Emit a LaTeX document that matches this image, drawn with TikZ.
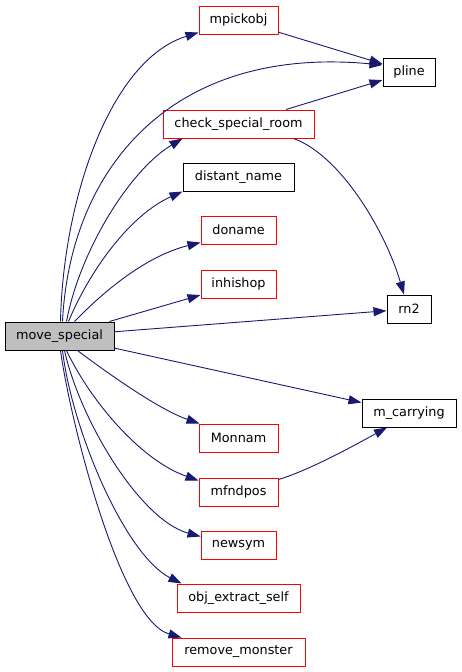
\documentclass[tikz,border=0pt]{standalone}
\usepackage{fontspec}
\setmainfont{DejaVu Sans}
\usetikzlibrary{arrows.meta}
\definecolor{edgeblue}{RGB}{25,25,112}
\definecolor{nodegrey}{RGB}{191,191,191}
\tikzset{
  fn/.style={draw=black, line width=1pt, fill=white, minimum height=28pt, inner sep=0pt,
    font=\fontsize{12.8pt}{14pt}\selectfont},
  redfn/.style={fn, draw=red},
  rootfn/.style={fn, fill=nodegrey},
  call/.style={draw=edgeblue, line width=0.9pt, -{Triangle[length=13pt,width=9pt]}, shorten >=0pt, arrows={[fill=edgeblue]}}
}
\begin{document}
\begin{tikzpicture}[x=1pt,y=-1pt]
\useasboundingbox (0,0) rectangle (461,672);
\node[redfn, minimum width=79pt] (mp) at (238.5,20) {mpickobj};
\node[fn, minimum width=52pt] (pline) at (409,72) {pline};
\node[redfn, minimum width=151pt] (csr) at (238.5,124) {check\_special\_room};
\node[fn, minimum width=111pt] (dn) at (238.5,177) {distant\_name};
\node[redfn, minimum width=75pt] (don) at (238.5,230) {doname};
\node[redfn, minimum width=75pt] (inh) at (238.5,284) {inhishop};
\node[fn, minimum width=44pt] (rn) at (409,309) {rn2};
\node[rootfn, minimum width=109pt] (ms) at (59.5,336) {move\_special};
\node[fn, minimum width=94pt] (mc) at (409,413) {m\_carrying};
\node[redfn, minimum width=79pt] (mon) at (238.5,438) {Monnam};
\node[redfn, minimum width=79pt] (mf) at (238.5,492) {mfndpos};
\node[redfn, minimum width=75pt] (ns) at (238.5,545) {newsym};
\node[redfn, minimum width=123pt] (oes) at (238.5,598) {obj\_extract\_self};
\node[redfn, minimum width=133pt] (rm) at (238.5,652) {remove\_monster};

% upper fan
\draw[call] ([xshift=56pt]ms.north west) .. controls (63,200) and (110,60) .. ([yshift=2pt]mp.south west);
\draw[call] ([xshift=58pt]ms.north west) .. controls (70,170) and (170,45) .. ([yshift=7pt]pline.west);
\draw[call] ([xshift=62pt]ms.north west) .. controls (80,250) and (130,170) .. ([xshift=20pt]csr.south west);
\draw[call] ([xshift=64pt]ms.north west) .. controls (90,270) and (130,215) .. (dn.south west);
\draw[call] ([xshift=70pt]ms.north west) .. controls (110,285) and (150,255) .. ([yshift=2pt]don.south west);
\draw[call] (ms) -- (inh);
\draw[call] (ms) -- (rn);
\draw[call] (ms) -- (mc);
% lower fan
\draw[call] ([xshift=73pt]ms.south west) .. controls (110,375) and (160,410) .. ([xshift=1pt]mon.north west);
\draw[call] ([xshift=62pt]ms.south west) .. controls (90,400) and (140,460) .. ([yshift=-3pt]mf.north west);
\draw[call] ([xshift=60pt]ms.south west) .. controls (80,420) and (140,520) .. ([yshift=-6pt]ns.north west);
\draw[call] ([xshift=58pt]ms.south west) .. controls (72,430) and (125,555) .. ([xshift=5pt]oes.north west);
\draw[call] ([xshift=56pt]ms.south west) .. controls (70,420) and (120,620) .. ([xshift=10pt]rm.north west);
% secondary
\draw[call] (mp) -- (pline);
\draw[call] (csr) -- (pline);
\draw[call] ([xshift=-21pt]csr.south east) .. controls (340,155) and (385,230) .. ([xshift=-5pt]rn.north);
\draw[call] ([yshift=-2pt]mf.north east) .. controls (310,470) and (355,445) .. ([xshift=-22pt]mc.south);
\end{tikzpicture}
\end{document}
